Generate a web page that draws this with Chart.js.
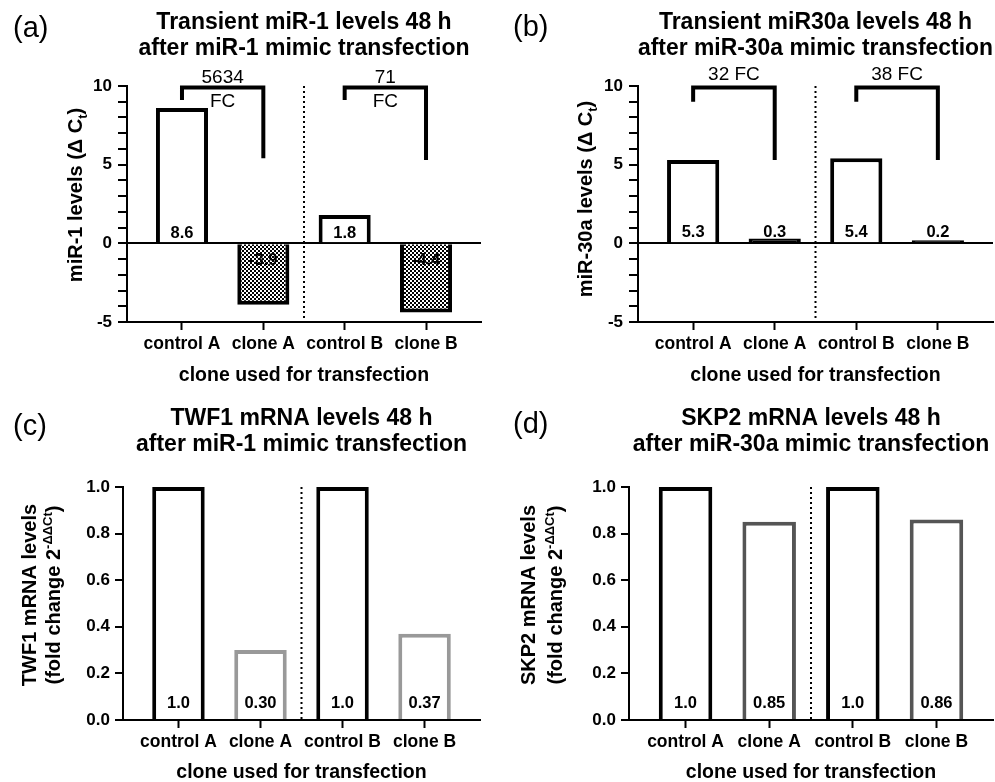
<!DOCTYPE html>
<html>
<head>
<meta charset="utf-8">
<script src="https://cdn.jsdelivr.net/npm/chart.js@4.4.1/dist/chart.umd.min.js"></script>
<style>
  html, body { margin: 0; padding: 0; background: #fff; }
  .panel { position: absolute; }
</style>
</head>
<body>
<canvas id="chartA" class="panel" width="497" height="391" style="left:0;top:0"></canvas>
<canvas id="chartB" class="panel" width="497" height="391" style="left:498px;top:0"></canvas>
<canvas id="chartC" class="panel" width="497" height="391" style="left:0;top:391px"></canvas>
<canvas id="chartD" class="panel" width="497" height="391" style="left:498px;top:391px"></canvas>
<script>
const FONT = "'Liberation Sans', Arial, sans-serif";

// shared categories
const categories = ["control A", "clone A", "control B", "clone B"];

// (a) miR-1 levels (delta Ct)
const mir1Values = [8.6, -3.9, 1.8, -4.4];
const mir1Labels = ["8.6", "-3.9", "1.8", "-4.4"];
// [from, to, left end, top, right end, text lines]
const mir1Brackets = [
  [0, 1, 9.1, 9.9, 5.4, ["5634", "FC"]],
  [2, 3, 9.1, 9.9, 5.3, ["71", "FC"]],
];

// (b) miR-30a levels (delta Ct)
const mir30Values = [5.3, 0.3, 5.4, 0.2];
const mir30Labels = ["5.3", "0.3", "5.4", "0.2"];
const mir30Brackets = [
  [0, 1, 9.0, 9.9, 5.3, ["32 FC"]],
  [2, 3, 9.0, 9.9, 5.3, ["38 FC"]],
];

// (c) TWF1 mRNA fold change
const twf1Values = [1.0, 0.3, 1.0, 0.37];
const twf1Labels = ["1.0", "0.30", "1.0", "0.37"];

// (d) SKP2 mRNA fold change
const skp2Values = [1.0, 0.85, 1.0, 0.86];
const skp2Labels = ["1.0", "0.85", "1.0", "0.86"];

// tick labels
const deltaTickLabels = [-5, 0, 5, 10];
const foldTickLabels = ["0.0", "0.2", "0.4", "0.6", "0.8", "1.0"];

Chart.defaults.font.family = FONT;
Chart.defaults.color = "#000";

//checker fill for the negative bars
const checker = (function () {
  const c = document.createElement("canvas");
  c.width = 4;
  c.height = 4;
  const g = c.getContext("2d");
  g.fillStyle = "#fff";
  g.fillRect(0, 0, 4, 4);
  g.fillStyle = "#000";
  g.fillRect(0, 0, 2, 2);
  g.fillRect(2, 2, 2, 2);
  return g.createPattern(c, "repeat");
})();

//rotated axis title with sub / superscript pieces
function drawRichTitle(g, segs, cx, cy, size) {
  g.save();
  g.translate(cx, cy);
  g.rotate(-Math.PI / 2);
  const sz = (m) => (m ? size * 0.65 : size);
  let total = 0;
  segs.forEach(([t, m]) => {
    g.font = `bold ${sz(m)}px ${FONT}`;
    total += g.measureText(t).width;
  });
  let x = -total / 2;
  g.textAlign = "left";
  g.textBaseline = "alphabetic";
  segs.forEach(([t, m]) => {
    g.font = `bold ${sz(m)}px ${FONT}`;
    const dy = m === "sub" ? size * 0.25 : m === "sup" ? -size * 0.42 : 0;
    g.fillText(t, x, size * 0.36 + dy);
    x += g.measureText(t).width;
  });
  g.restore();
}

function makePanel(id, p) {
  const decor = {
    id: "decor" + id,
    afterDraw(chart) {
      const g = chart.ctx;
      const xs = chart.scales.x;
      const ys = chart.scales.y;
      const area = chart.chartArea;
      g.save();

      // dotted separator
      const xm = xs.getPixelForValue(1.5);
      g.strokeStyle = "#000";
      g.lineWidth = 2;
      g.setLineDash([2, 3]);
      g.beginPath();
      g.moveTo(xm, area.top);
      g.lineTo(xm, area.bottom);
      g.stroke();
      g.setLineDash([]);

      // values inside the bars
      const y0 = ys.getPixelForValue(0);
      g.fillStyle = "#000";
      g.font = `bold 16.5px ${FONT}`;
      g.textAlign = "center";
      g.textBaseline = "middle";
      p.labels.forEach((t, i) => {
        const off = p.values[i] < 0 ? p.negOffset : -p.posOffset;
        g.fillText(t, xs.getPixelForValue(i), y0 + off);
      });

      // fold change brackets
      (p.brackets || []).forEach(([i0, i1, yl, yt, yr, text]) => {
        const x0 = xs.getPixelForValue(i0);
        const x1 = xs.getPixelForValue(i1);
        const top = ys.getPixelForValue(yt);
        g.lineWidth = 4;
        g.lineJoin = "miter";
        g.beginPath();
        g.moveTo(x0, ys.getPixelForValue(yl));
        g.lineTo(x0, top);
        g.lineTo(x1, top);
        g.lineTo(x1, ys.getPixelForValue(yr));
        g.stroke();
        g.font = `19px ${FONT}`;
        const xc = (x0 + x1) / 2;
        if (text.length === 2) {
          g.fillText(text[0], xc, top - 10);
          g.fillText(text[1], xc, top + 14);
        } else {
          g.fillText(text[0], xc, top - 13);
        }
      });

      // y axis title
      p.yTitle.forEach((segs, k) => {
        drawRichTitle(g, segs, p.yTitleX[k], p.yTitleY, 20);
      });

      // panel letter
      g.font = `29px ${FONT}`;
      g.textAlign = "left";
      g.textBaseline = "middle";
      g.fillText(p.letter, p.letterX, p.letterY);

      g.restore();
    },
  };

  return new Chart(document.getElementById(id), {
    type: "bar",
    data: {
      datasets: [
        {
          data: p.values.map((v, i) => ({ x: i, y: v })),
          backgroundColor: p.fill,
          borderColor: p.border,
          borderWidth: p.borderWidth,
          borderSkipped: "start",
          categoryPercentage: 0.8,
          barPercentage: 0.8,
        },
      ],
    },
    options: {
      responsive: false,
      animation: false,
      layout: { padding: { left: 0, right: p.padRight, top: 0, bottom: 0 } },
      plugins: {
        legend: { display: false },
        tooltip: { enabled: false },
        title: {
          display: true,
          fullSize: false,
          text: p.title,
          color: "#000",
          font: { size: 23, weight: "bold", lineHeight: 1.15 },
          padding: p.titlePad,
        },
      },
      scales: {
        x: {
          type: "linear",
          min: -0.676,
          max: 3.676,
          offset: false,
          afterFit: (s) => {
            s.height = p.xHeight;
          },
          afterBuildTicks: (s) => {
            s.ticks = categories.map((c, i) => ({ value: i }));
          },
          grid: {
            offset: false,
            drawOnChartArea: false,
            tickLength: 8,
            tickWidth: 2,
            tickColor: "#000",
          },
          border: { color: "#000", width: 2 },
          ticks: {
            autoSkip: false,
            maxRotation: 0,
            padding: 4,
            font: { size: 17.5, weight: "bold" },
            callback: (v) => categories[v],
          },
          title: {
            display: true,
            text: "clone used for transfection",
            font: { size: 19.5, weight: "bold", lineHeight: 1 },
            padding: { top: 0, bottom: p.xTitlePad },
          },
        },
        y: {
          min: p.yMin,
          max: p.yMax,
          afterFit: (s) => {
            s.width = p.yWidth;
          },
          grid: {
            drawOnChartArea: true,
            lineWidth: 2,
            color: (c) =>
              p.zeroLine && c.tick && c.tick.value === 0 ? "#000" : "rgba(0,0,0,0)",
            tickColor: "#000",
            tickWidth: 2,
            tickLength: p.yTickLength,
          },
          border: { color: "#000", width: 2 },
          ticks: {
            stepSize: p.step,
            autoSkip: false,
            padding: p.yTickPad,
            font: { size: 17, weight: "bold" },
            callback: p.tickLabel,
          },
        },
      },
    },
    plugins: [decor],
  });
}

makePanel("chartA", {
  values: mir1Values,
  labels: mir1Labels,
  brackets: mir1Brackets,
  fill: ["#fff", checker, "#fff", checker],
  border: "#000",
  borderWidth: 4,
  title: ["Transient miR-1 levels 48 h", "after miR-1 mimic transfection"],
  titlePad: { top: 9, bottom: 24 },
  yMin: -5,
  yMax: 10,
  step: 1,
  zeroLine: true,
  tickLabel: (v) => (deltaTickLabels.includes(v) ? String(v) : ""),
  yWidth: 127,
  yTickLength: 9,
  yTickPad: 6,
  xHeight: 69,
  xTitlePad: 6,
  padRight: 16,
  posOffset: 10,
  negOffset: 17,
  yTitle: [[["miR-1 levels (\u0394 C", ""], ["t", "sub"], [")", ""]]],
  yTitleX: [75],
  yTitleY: 195,
  letter: "(a)",
  letterX: 13,
  letterY: 29,
});

makePanel("chartB", {
  values: mir30Values,
  labels: mir30Labels,
  brackets: mir30Brackets,
  fill: ["#fff", "#000", "#fff", "#000"],
  border: "#000",
  borderWidth: 4,
  title: ["Transient miR30a levels 48 h", "after miR-30a mimic transfection"],
  titlePad: { top: 9, bottom: 24 },
  yMin: -5,
  yMax: 10,
  step: 1,
  zeroLine: true,
  tickLabel: (v) => (deltaTickLabels.includes(v) ? String(v) : ""),
  yWidth: 140,
  yTickLength: 9,
  yTickPad: 6,
  xHeight: 69,
  xTitlePad: 6,
  padRight: 2,
  posOffset: 11,
  negOffset: 17,
  yTitle: [[["miR-30a levels (\u0394 C", ""], ["t", "sub"], [")", ""]]],
  yTitleX: [87],
  yTitleY: 199,
  letter: "(b)",
  letterX: 15,
  letterY: 28,
});

makePanel("chartC", {
  values: twf1Values,
  labels: twf1Labels,
  fill: "#fff",
  border: ["#000", "#999", "#000", "#999"],
  borderWidth: 4,
  title: ["TWF1 mRNA levels 48 h", "after miR-1 mimic transfection"],
  titlePad: { top: 14, bottom: 29 },
  yMin: 0,
  yMax: 1,
  step: 0.2,
  zeroLine: false,
  tickLabel: (v, i) => foldTickLabels[i],
  yWidth: 123,
  yTickLength: 8,
  yTickPad: 5,
  xHeight: 62,
  xTitlePad: 0,
  padRight: 17,
  posOffset: 17,
  negOffset: 17,
  yTitle: [
    [["TWF1 mRNA levels", ""]],
    [["(fold change 2", ""], ["-\u0394\u0394Ct", "sup"], [")", ""]],
  ],
  yTitleX: [29, 53],
  yTitleY: 204,
  letter: "(c)",
  letterX: 13,
  letterY: 36,
});

makePanel("chartD", {
  values: skp2Values,
  labels: skp2Labels,
  fill: "#fff",
  border: ["#000", "#555", "#000", "#555"],
  borderWidth: 4,
  title: ["SKP2 mRNA levels 48 h", "after miR-30a mimic transfection"],
  titlePad: { top: 14, bottom: 29 },
  yMin: 0,
  yMax: 1,
  step: 0.2,
  zeroLine: false,
  tickLabel: (v, i) => foldTickLabels[i],
  yWidth: 131,
  yTickLength: 8,
  yTickPad: 5,
  xHeight: 62,
  xTitlePad: 0,
  padRight: 2,
  posOffset: 17,
  negOffset: 17,
  yTitle: [
    [["SKP2 mRNA levels", ""]],
    [["(fold change 2", ""], ["-\u0394\u0394Ct", "sup"], [")", ""]],
  ],
  yTitleX: [30, 57],
  yTitleY: 204,
  letter: "(d)",
  letterX: 15,
  letterY: 34,
});
</script>
</body>
</html>
